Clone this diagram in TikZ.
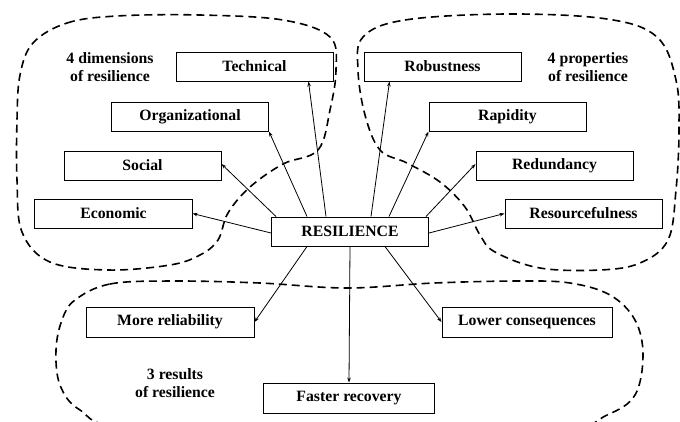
\documentclass[tikz,border=0pt]{standalone}
\usepackage{fontspec}
\setmainfont{Liberation Serif}
\usetikzlibrary{arrows.meta}
\tikzset{
  box/.style={draw, line width=1bp, inner sep=0pt, minimum height=29bp, minimum width=157bp, font=\fontsize{15.8}{18}\selectfont\bfseries},
  lbl/.style={align=center, inner sep=0pt, font=\fontsize{15.8}{18.5}\selectfont\bfseries},
  arr/.style={line width=0.8bp, -{Stealth[length=5bp,width=3.5bp]}},
  blob/.style={line width=1.6bp, dash pattern=on 8bp off 5bp}
}
\begin{document}
\begin{tikzpicture}[x=1bp,y=-1bp]
\useasboundingbox (0,0) rectangle (680,421);
\clip (0,0) rectangle (680,421);
% dashed groups
\draw[blob] plot[smooth cycle, tension=0.6] coordinates {(33,43) (67,23) (117,16) (200,15) (283,20) (330,37) (336,70) (330,110) (318,150) (283,164) (250,187) (228,213) (218,240) (200,255) (170,265) (108,270) (50,262) (22,232) (17,180) (17,120) (20,75)};
\draw[blob] plot[smooth cycle, tension=0.6] coordinates {(363,37) (405,20) (507,14) (607,19) (657,37) (676,80) (679,130) (676,190) (668,240) (640,263) (600,270) (540,268) (495,252) (480,235) (465,207) (440,182) (407,163) (380,150) (365,115) (358,70)};
\draw[blob] plot[smooth cycle, tension=0.6] coordinates {(75,300) (110,284) (173,281) (260,283) (347,288) (434,283) (520,281) (570,283) (610,295) (635,320) (643,355) (635,395) (607,415) (560,428) (350,432) (130,428) (80,410) (60,385) (56,350) (62,320)};
% nodes
\node[box] (res) at (350,231.5) {RESILIENCE};
\node[box] (tech) at (254.5,66.5) {Technical};
\node[box] (org) at (190,116.5) {Organizational};
\node[box] (soc) at (142.5,165.5) {Social};
\node[box] (eco) at (113.5,213.5) {Economic};
\node[box] (rob) at (442.5,66.5) {Robustness};
\node[box] (rap) at (507.5,116.5) {Rapidity};
\node[box] (red) at (554.5,165.5) {Redundancy};
\node[box] (resf) at (583.5,213.5) {Resourcefulness};
\node[box, minimum width=168bp, minimum height=30bp] (rel) at (170,322) {More reliability};
\node[box, minimum width=170bp, minimum height=30bp] (low) at (527,322) {Lower consequences};
\node[box, minimum width=171bp, minimum height=30bp] (fast) at (349,398) {Faster recovery};
\node[lbl] (l1) at (110,67) {4 dimensions\\of resilience};
\node[lbl] (l2) at (588,67) {4 properties\\of resilience};
\node[lbl] (l3) at (175,383) {3 results\\of resilience};
% arrows
\draw[arr] ([yshift=-1.5bp]res.west) -- (eco.east);
\draw[arr] ([xshift=5bp]res.north west) -- ([yshift=1.5bp]soc.east);
\draw[arr] ([xshift=36bp]res.north west) -- (org.south east);
\draw[arr] ([xshift=55bp]res.north west) -- ([xshift=-25bp]tech.south east);
\draw[arr] ([xshift=100bp]res.north west) -- ([xshift=26bp]rob.south west);
\draw[arr] ([xshift=118bp]res.north west) -- (rap.south west);
\draw[arr] ([xshift=-3bp]res.north east) -- ([yshift=1.5bp]red.west);
\draw[arr] ([yshift=-1.5bp]res.east) -- (resf.west);
\draw[arr] ([xshift=36bp]res.south west) -- (rel.east);
\draw[arr] (res.south) -- (fast.north);
\draw[arr] ([xshift=114bp]res.south west) -- (low.west);
\end{tikzpicture}
\end{document}
